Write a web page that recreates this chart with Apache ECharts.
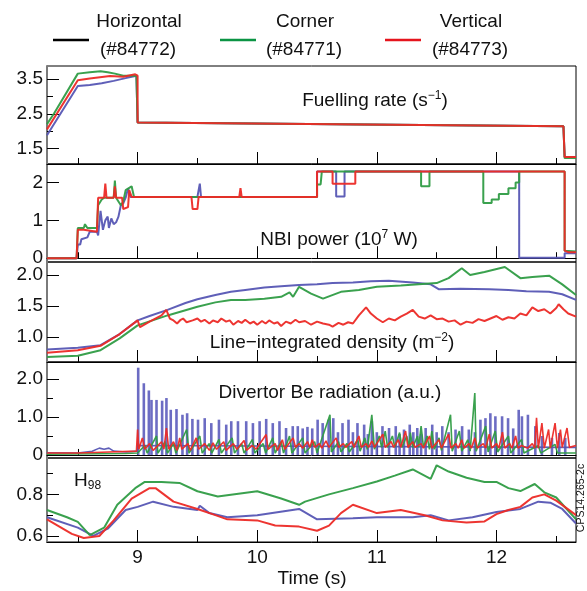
<!DOCTYPE html>
<html><head><meta charset="utf-8">
<script src="https://cdn.jsdelivr.net/npm/echarts@6/dist/echarts.min.js"></script>
<style>html,body{margin:0;padding:0;background:#fff}#c{width:587px;height:591px}</style>
</head><body><div id="c"></div>
<script>
// ---------- data ----------
const xMin = 8.2425, xMax = 12.665;
const xMajorTicks = [9, 10, 11, 12];
const xMinorTicks = [8.5, 9.5, 10.5, 11.5, 12.5];
const legendNames = ['Horizontal', 'Corner', 'Vertical'];
const legendShots = ['(#84772)', '(#84771)', '(#84773)'];

// Fuelling rate (s^-1)
const fuelBlue = [[8.2425,1.88],[8.5,3.3],[8.6,3.33],[8.7,3.38],[8.8,3.45],[8.9,3.53],[8.99,3.6],[9.0,2.25],[12.56,2.14],[12.57,1.25],[12.665,1.25]];
const fuelGreen = [[8.2425,2.2],[8.3,2.5],[8.5,3.66],[8.6,3.7],[8.69,3.73],[8.75,3.7],[8.81,3.66],[8.88,3.6],[8.99,3.6],[9.0,2.25],[12.56,2.14],[12.57,1.22],[12.665,1.22]];
const fuelRed = [[8.2425,2.05],[8.5,3.47],[8.6,3.52],[8.77,3.59],[8.88,3.57],[8.98,3.64],[9.0,3.6],[9.0,2.25],[12.56,2.14],[12.57,1.25],[12.665,1.25]];

// NBI power (1e7 W)
const nbiBlue = [[8.2425,0],[8.49,0],[8.5,0.36],[8.52,0.36],[8.53,0.5],[8.58,0.55],[8.6,0.7],[8.66,0.7],[8.67,0.6],[8.69,1.25],[8.71,0.75],[8.73,1.0],[8.75,1.1],[8.76,0.8],[8.78,1.05],[8.8,0.9],[8.82,0.95],[8.84,1.1],[8.86,1.4],[8.88,1.45],[8.9,1.6],[8.92,1.85],[8.94,1.62],[9.5,1.62],[9.52,1.97],[9.53,1.62],[10.5,1.62],[10.5,2.29],[10.66,2.29],[10.66,1.63],[10.73,1.63],[10.73,2.29],[12.19,2.29],[12.19,0.01],[12.57,0.01],[12.57,0.13],[12.665,0.13]];
const nbiGreen = [[8.2425,0],[8.49,0],[8.5,0.8],[8.55,0.8],[8.56,0.9],[8.58,0.8],[8.66,0.8],[8.67,1.4],[8.7,1.55],[8.72,1.6],[8.8,1.6],[8.81,2.05],[8.82,1.6],[8.86,1.4],[8.88,1.5],[8.9,1.8],[8.95,1.9],[8.97,1.62],[10.5,1.62],[10.5,1.95],[10.53,1.95],[10.54,2.29],[11.37,2.29],[11.37,1.9],[11.44,1.9],[11.44,2.29],[11.89,2.29],[11.89,1.46],[11.96,1.46],[11.96,1.55],[12.02,1.55],[12.02,1.7],[12.1,1.7],[12.1,1.85],[12.16,1.85],[12.16,2.0],[12.19,2.0],[12.19,2.29],[12.57,2.29],[12.57,0.2],[12.665,0.18]];
const nbiRed = [[8.2425,0],[8.49,0],[8.5,0.75],[8.55,0.75],[8.56,0.7],[8.66,0.7],[8.67,1.6],[8.72,1.6],[8.73,1.97],[8.74,1.6],[8.8,1.6],[8.81,1.9],[8.82,1.6],[8.87,1.6],[8.88,1.3],[8.92,1.35],[8.93,1.8],[8.95,1.62],[9.45,1.62],[9.46,1.3],[9.5,1.3],[9.51,1.62],[9.85,1.62],[9.86,1.85],[9.87,1.62],[10.5,1.62],[10.5,2.29],[10.63,2.29],[10.63,1.97],[10.82,1.97],[10.82,2.29],[12.57,2.29],[12.57,0.2],[12.6,0.16],[12.665,0.16]];

// Line-integrated density (m^-2)
const denBlue = [[8.2425,0.8],[8.5,0.83],[8.69,0.87],[8.85,1.05],[9.0,1.27],[9.1,1.34],[9.25,1.44],[9.4,1.55],[9.5,1.61],[9.65,1.68],[9.78,1.73],[9.9,1.76],[10.06,1.8],[10.2,1.82],[10.35,1.84],[10.5,1.85],[10.63,1.87],[10.8,1.88],[10.95,1.9],[11.1,1.91],[11.3,1.88],[11.45,1.85],[11.52,1.77],[11.7,1.78],[11.94,1.77],[12.1,1.76],[12.25,1.74],[12.44,1.73],[12.55,1.69],[12.665,1.6]];
const denGreen = [[8.2425,0.68],[8.5,0.7],[8.69,0.79],[8.85,0.98],[9.0,1.19],[9.25,1.35],[9.5,1.49],[9.65,1.56],[9.78,1.6],[9.9,1.6],[10.06,1.62],[10.2,1.65],[10.27,1.72],[10.3,1.65],[10.35,1.81],[10.45,1.7],[10.55,1.62],[10.7,1.73],[10.85,1.76],[11.0,1.81],[11.2,1.83],[11.5,1.87],[11.6,1.95],[11.71,2.11],[11.78,2.0],[11.9,2.05],[12.07,2.13],[12.2,1.95],[12.3,1.97],[12.44,1.99],[12.55,1.85],[12.665,1.68]];
const denRed = [[8.2425,0.75],[8.5,0.79],[8.69,0.86],[8.85,1.05],[9.0,1.27],[9.02,1.16],[9.1,1.25],[9.2,1.35],[9.24,1.44],[9.27,1.3],[9.3,1.27],[9.33,1.22],[9.36,1.28],[9.38,1.3],[9.41,1.24],[9.42,1.22],[9.46,1.27],[9.5,1.3],[9.53,1.25],[9.56,1.28],[9.6,1.22],[9.63,1.27],[9.67,1.24],[9.7,1.3],[9.74,1.25],[9.77,1.27],[9.8,1.2],[9.84,1.26],[9.87,1.23],[9.9,1.28],[9.94,1.22],[9.97,1.25],[10.0,1.2],[10.04,1.26],[10.07,1.22],[10.1,1.27],[10.14,1.22],[10.17,1.24],[10.2,1.18],[10.24,1.25],[10.28,1.22],[10.32,1.28],[10.35,1.24],[10.4,1.26],[10.45,1.2],[10.5,1.25],[10.55,1.22],[10.6,1.2],[10.63,1.17],[10.68,1.23],[10.72,1.2],[10.76,1.24],[10.8,1.22],[10.85,1.35],[10.91,1.48],[10.95,1.38],[11.0,1.3],[11.05,1.24],[11.1,1.3],[11.15,1.27],[11.2,1.33],[11.25,1.38],[11.3,1.44],[11.35,1.33],[11.4,1.3],[11.45,1.35],[11.5,1.29],[11.55,1.3],[11.6,1.25],[11.65,1.27],[11.7,1.2],[11.75,1.25],[11.8,1.23],[11.85,1.29],[11.9,1.26],[11.95,1.3],[12.0,1.34],[12.05,1.28],[12.1,1.32],[12.15,1.3],[12.2,1.38],[12.25,1.35],[12.3,1.48],[12.35,1.42],[12.4,1.45],[12.45,1.38],[12.5,1.47],[12.52,1.53],[12.56,1.45],[12.6,1.38],[12.665,1.33]];

// Divertor Be radiation (a.u.)
const beBlueBase = [[8.2425,0.06],[8.5,0.05],[8.62,0.1],[8.68,0.18],[8.72,0.15],[8.76,0.18],[8.8,0.1],[8.9,0.08],[9.0,0.1],[9.01,0.25],[12.6,0.2],[12.665,0.2]];
const beBlueSpikes = [[9.005,2.30],[9.052,1.89],[9.094,1.70],[9.116,1.45],[9.158,1.45],[9.205,1.43],[9.241,1.50],[9.277,1.19],[9.325,1.21],[9.375,1.06],[9.414,1.10],[9.458,0.95],[9.505,0.93],[9.561,0.97],[9.616,0.84],[9.68,0.93],[9.741,0.80],[9.783,0.89],[9.839,0.89],[9.908,0.89],[9.964,0.84],[10.02,0.89],[10.075,0.95],[10.13,0.84],[10.186,0.89],[10.241,0.71],[10.297,0.76],[10.339,0.76],[10.38,0.70],[10.42,0.74],[10.46,0.70],[10.505,0.93],[10.547,0.84],[10.597,0.93],[10.636,0.97],[10.675,0.6],[10.713,0.84],[10.763,0.93],[10.8,0.6],[10.838,0.84],[10.894,0.80],[10.925,0.55],[10.958,0.89],[11.0,0.6],[11.047,0.76],[11.102,0.71],[11.158,0.76],[11.19,0.55],[11.227,0.67],[11.275,0.80],[11.305,0.6],[11.338,0.71],[11.37,0.55],[11.408,0.71],[11.463,0.80],[11.5,0.6],[11.547,0.76],[11.6,0.6],[11.658,0.67],[11.713,0.76],[11.769,0.67],[11.82,0.6],[11.866,0.93],[11.908,0.97],[11.949,1.10],[11.991,1.02],[12.047,1.02],[12.097,0.97],[12.14,0.7],[12.186,1.19],[12.213,1.02],[12.263,1.06],[12.325,0.76],[12.38,0.50],[12.464,0.45],[12.525,0.58],[12.575,0.45]];
const beGreen = [[8.2425,0.02],[8.9,0.04],[9.0,0.05],[9.06,0.25],[9.08,0.05],[9.158,0.5],[9.17,0.05],[9.23,0.35],[9.25,0.05],[9.3,0.3],[9.32,0.05],[9.41,0.67],[9.43,0.05],[9.52,0.5],[9.54,0.05],[9.6,0.3],[9.62,0.05],[9.68,0.41],[9.7,0.05],[9.79,0.45],[9.81,0.05],[9.87,0.3],[9.89,0.05],[9.96,0.41],[9.98,0.05],[10.05,0.3],[10.07,0.05],[10.13,0.45],[10.15,0.05],[10.2,0.35],[10.22,0.05],[10.27,0.5],[10.29,0.05],[10.38,0.45],[10.4,0.05],[10.48,0.35],[10.5,0.05],[10.608,1.06],[10.62,0.08],[10.68,0.35],[10.7,0.08],[10.75,0.3],[10.77,0.08],[10.84,0.4],[10.86,0.1],[10.9,0.45],[10.92,0.15],[10.958,1.06],[10.98,0.15],[11.02,0.5],[11.04,0.2],[11.07,0.63],[11.09,0.2],[11.13,0.5],[11.15,0.2],[11.19,0.59],[11.21,0.2],[11.25,0.5],[11.27,0.2],[11.28,0.59],[11.3,0.2],[11.34,0.5],[11.35,0.2],[11.37,0.76],[11.39,0.2],[11.42,0.5],[11.44,0.15],[11.46,0.63],[11.48,0.15],[11.52,0.45],[11.54,0.12],[11.616,1.06],[11.63,0.1],[11.69,0.63],[11.71,0.1],[11.76,0.4],[11.78,0.1],[11.819,1.63],[11.83,0.1],[11.91,0.76],[11.93,0.08],[11.99,0.63],[12.01,0.08],[12.1,0.5],[12.12,0.05],[12.21,0.41],[12.23,0.05],[12.35,0.25],[12.37,0.05],[12.49,0.28],[12.51,0.05],[12.665,0.05]];
const beRed = [[8.2425,0.05],[8.5,0.05],[8.7,0.07],[8.99,0.1],[9.0,0.67],[9.01,0.15],[9.04,0.45],[9.06,0.15],[9.1,0.3],[9.13,0.12],[9.2,0.35],[9.22,0.15],[9.241,0.71],[9.26,0.15],[9.3,0.35],[9.33,0.12],[9.352,0.45],[9.37,0.15],[9.42,0.3],[9.44,0.12],[9.49,0.45],[9.51,0.15],[9.56,0.3],[9.6,0.12],[9.63,0.32],[9.66,0.15],[9.72,0.35],[9.74,0.12],[9.8,0.3],[9.83,0.15],[9.89,0.38],[9.91,0.12],[9.96,0.25],[9.99,0.15],[10.075,0.54],[10.09,0.15],[10.15,0.3],[10.17,0.12],[10.21,0.4],[10.23,0.15],[10.3,0.45],[10.32,0.2],[10.35,0.3],[10.38,0.18],[10.42,0.35],[10.44,0.2],[10.46,0.4],[10.48,0.2],[10.52,0.3],[10.54,0.18],[10.575,0.37],[10.6,0.2],[10.66,0.45],[10.68,0.2],[10.72,0.3],[10.74,0.2],[10.79,0.35],[10.81,0.2],[10.85,0.5],[10.87,0.2],[10.91,0.3],[10.93,0.2],[10.96,0.37],[10.98,0.2],[11.05,0.55],[11.07,0.2],[11.12,0.35],[11.14,0.2],[11.18,0.4],[11.2,0.2],[11.24,0.63],[11.26,0.2],[11.3,0.35],[11.32,0.2],[11.37,0.3],[11.39,0.18],[11.44,0.5],[11.46,0.18],[11.52,0.4],[11.54,0.18],[11.6,0.55],[11.62,0.18],[11.66,0.3],[11.68,0.18],[11.71,0.4],[11.73,0.18],[11.77,0.3],[11.79,0.18],[11.82,0.45],[11.84,0.18],[11.89,0.3],[11.91,0.18],[11.94,0.55],[11.96,0.18],[12.0,0.3],[12.02,0.18],[12.05,0.6],[12.07,0.18],[12.11,0.3],[12.13,0.18],[12.16,0.5],[12.18,0.18],[12.21,0.25],[12.26,0.18],[12.3,0.3],[12.32,0.18],[12.335,0.98],[12.35,0.18],[12.38,0.84],[12.4,0.18],[12.436,0.67],[12.45,0.18],[12.49,0.84],[12.51,0.18],[12.535,0.67],[12.55,0.2],[12.59,0.71],[12.61,0.2],[12.665,0.25]];

// H98
const hBlue = [[8.2425,0.69],[8.5,0.64],[8.63,0.6],[8.75,0.635],[8.9,0.725],[9.0,0.74],[9.13,0.765],[9.3,0.74],[9.5,0.725],[9.52,0.745],[9.6,0.71],[9.75,0.69],[10.0,0.7],[10.35,0.73],[10.5,0.68],[10.8,0.685],[11.0,0.69],[11.3,0.69],[11.45,0.7],[11.6,0.675],[11.8,0.69],[12.0,0.715],[12.2,0.73],[12.35,0.765],[12.45,0.76],[12.55,0.73],[12.665,0.66]];
const hGreen = [[8.2425,0.725],[8.41,0.69],[8.5,0.668],[8.6,0.604],[8.72,0.64],[8.83,0.75],[8.98,0.83],[9.06,0.86],[9.2,0.86],[9.35,0.855],[9.5,0.815],[9.67,0.79],[10.0,0.815],[10.2,0.78],[10.35,0.75],[10.4,0.765],[10.6,0.8],[10.8,0.83],[11.0,0.862],[11.15,0.89],[11.3,0.92],[11.45,0.875],[11.5,0.94],[11.6,0.91],[11.75,0.88],[11.9,0.86],[12.0,0.86],[12.1,0.83],[12.2,0.816],[12.32,0.85],[12.4,0.81],[12.5,0.785],[12.665,0.68]];
const hRed = [[8.2425,0.68],[8.45,0.61],[8.55,0.59],[8.68,0.6],[8.8,0.675],[8.95,0.78],[9.1,0.83],[9.15,0.83],[9.3,0.765],[9.5,0.73],[9.65,0.7],[9.75,0.68],[10.0,0.675],[10.15,0.65],[10.35,0.645],[10.5,0.625],[10.6,0.65],[10.7,0.71],[10.8,0.75],[11.0,0.71],[11.2,0.725],[11.4,0.7],[11.55,0.675],[11.75,0.665],[11.9,0.67],[12.0,0.705],[12.1,0.725],[12.2,0.74],[12.3,0.785],[12.4,0.8],[12.5,0.77],[12.665,0.7]];

// y ticks per panel
const fuelTicks = [1.5, 2.5, 3.5], fuelTickLabels = ['1.5', '2.5', '3.5'], fuelMinor = [2.0, 3.0];
const nbiTicks = [0, 1, 2], nbiTickLabels = ['0', '1', '2'], nbiMinor = [];
const denTicks = [1.0, 1.5, 2.0], denTickLabels = ['1.0', '1.5', '2.0'], denMinor = [];
const beTicks = [0, 1, 2], beTickLabels = ['0', '1.0', '2.0'], beMinor = [0.5, 1.5];
const hTicks = [0.6, 0.8], hTickLabels = ['0.6', '0.8'], hMinor = [0.7, 0.9];

// ---------- layout / style ----------
const colors = ['#5656b4', '#2f9c45', '#ec2a26'];
const panels = [
  {top: 66, height: 98, min: 1.05, max: 3.88, ticks: fuelTicks, labels: fuelTickLabels, minor: fuelMinor, data: [fuelBlue, fuelGreen, fuelRed]},
  {top: 164, height: 98, min: -0.1, max: 2.49, ticks: nbiTicks, labels: nbiTickLabels, minor: nbiMinor, data: [nbiBlue, nbiGreen, nbiRed]},
  {top: 262, height: 100, min: 0.6, max: 2.21, ticks: denTicks, labels: denTickLabels, minor: denMinor, data: [denBlue, denGreen, denRed]},
  {top: 362, height: 96, min: -0.08, max: 2.45, ticks: beTicks, labels: beTickLabels, minor: beMinor, data: [beBlueBase, beGreen, beRed], bars: beBlueSpikes},
  {top: 458, height: 84, min: 0.571, max: 0.975, ticks: hTicks, labels: hTickLabels, minor: hMinor, data: [hBlue, hGreen, hRed]}
];
const FONT = 'Liberation Sans, Arial, sans-serif';

const grid = [], xAxis = [], yAxis = [], series = [];
panels.forEach((p, i) => {
  grid.push({left: 47, right: 11, top: p.top, height: p.height, show: true, borderColor: '#000', borderWidth: 1, backgroundColor: 'transparent'});
  const last = i === panels.length - 1;
  xAxis.push({type: 'value', gridIndex: i, min: xMin, max: xMax, position: 'bottom',
    axisLine: {show: true, lineStyle: {color: '#000', width: 1}},
    axisTick: {show: true, inside: true, length: 12, customValues: xMajorTicks, lineStyle: {color: '#000', width: 1}},
    axisLabel: {show: last, customValues: xMajorTicks, fontSize: 19, color: '#111', fontFamily: FONT, margin: 6},
    splitLine: {show: false}});
  xAxis.push({type: 'value', gridIndex: i, min: xMin, max: xMax, position: 'bottom',
    axisLine: {show: false},
    axisTick: {show: true, inside: true, length: 6, customValues: xMinorTicks, lineStyle: {color: '#000', width: 1}},
    axisLabel: {show: false, customValues: xMinorTicks},
    splitLine: {show: false}});
  const labs = p.labels, tks = p.ticks;
  yAxis.push({type: 'value', gridIndex: i, min: p.min, max: p.max, position: 'left',
    axisLine: {show: true, lineStyle: {color: '#7a7a7a', width: 2}},
    axisTick: {show: true, inside: true, length: 12, customValues: tks, lineStyle: {color: '#000', width: 1}},
    axisLabel: {show: true, customValues: tks, fontSize: 19, color: '#111', fontFamily: FONT, margin: 4,
      formatter: v => { const k = tks.findIndex(t => Math.abs(t - v) < 1e-6); return k >= 0 ? labs[k] : ''; }},
    splitLine: {show: false}});
  yAxis.push({type: 'value', gridIndex: i, min: p.min, max: p.max, position: 'left',
    axisLine: {show: false},
    axisTick: {show: p.minor.length > 0, inside: true, length: 6, customValues: p.minor.length ? p.minor : [p.min], lineStyle: {color: '#000', width: 1}},
    axisLabel: {show: false, customValues: p.minor.length ? p.minor : [p.min]},
    splitLine: {show: false}});
  if (p.bars) {
    series.push({type: 'bar', name: legendNames[0], xAxisIndex: 2 * i, yAxisIndex: 2 * i, data: p.bars,
      barWidth: 2.6, animation: false, itemStyle: {color: '#5c5cbc', opacity: 0.9}, z: 1});
  }
  p.data.forEach((d, s) => {
    series.push({type: 'line', name: legendNames[s], xAxisIndex: 2 * i, yAxisIndex: 2 * i, data: d,
      showSymbol: false, symbol: 'none', clip: true, animation: false,
      lineStyle: {color: colors[s], width: i === 3 ? 1.6 : 2, opacity: 0.95}, z: 2 + s});
  });
});

const txt = (x, y, text, extra) => ({type: 'text', x: x, y: y, z: 100, style: Object.assign({text: text, fontSize: 19, fontFamily: FONT, fill: '#111', align: 'center', verticalAlign: 'middle'}, extra || {})});
const rich = {a: {fontSize: 19, fontFamily: FONT, color: '#111'}, sup: {fontSize: 12, fontFamily: FONT, color: '#111', verticalAlign: 'top', padding: [0, 0, 10, 0]}, sub: {fontSize: 12, fontFamily: FONT, color: '#111', padding: [10, 0, 0, 0]}};
const richTxt = (x, y, text, align) => ({type: 'text', x: x, y: y, z: 100, style: {text: text, rich: rich, align: align || 'center', verticalAlign: 'middle', fontSize: 19, fontFamily: FONT, fill: '#111'}});

const legendX = [139, 305, 471], legendLineX = [53, 220, 385], legendColors = ['#000000', '#0b9444', '#e5141d'];
const graphic = [];
legendNames.forEach((n, k) => {
  graphic.push(txt(legendX[k], 22, n));
  graphic.push(txt(legendX[k] - 1, 50, legendShots[k]));
  graphic.push({type: 'line', z: 100, shape: {x1: legendLineX[k], y1: 40, x2: legendLineX[k] + 36, y2: 40}, style: {stroke: legendColors[k], lineWidth: 2.5}});
});
graphic.push(richTxt(375, 101, '{a|Fuelling rate (s}{sup|−1}{a|)}'));
graphic.push(richTxt(339, 240, '{a|NBI power (10}{sup|7}{a| W)}'));
graphic.push(richTxt(332, 343, '{a|Line−integrated density (m}{sup|−2}{a|)}'));
graphic.push(txt(330, 393, 'Divertor Be radiation (a.u.)'));
graphic.push(richTxt(74, 481, '{a|H}{sub|98}', 'left'));
graphic.push(txt(312, 579, 'Time (s)'));
graphic.push({type: 'text', x: 581, y: 498, rotation: Math.PI / 2, z: 100, style: {text: 'CPS14.265-2c', fontSize: 10.5, fontFamily: FONT, fill: '#111', align: 'center', verticalAlign: 'middle'}});

const chart = echarts.init(document.getElementById('c'), null, {renderer: 'canvas'});
chart.setOption({animation: false, backgroundColor: '#fff', grid, xAxis, yAxis, series, graphic});
</script></body></html>
